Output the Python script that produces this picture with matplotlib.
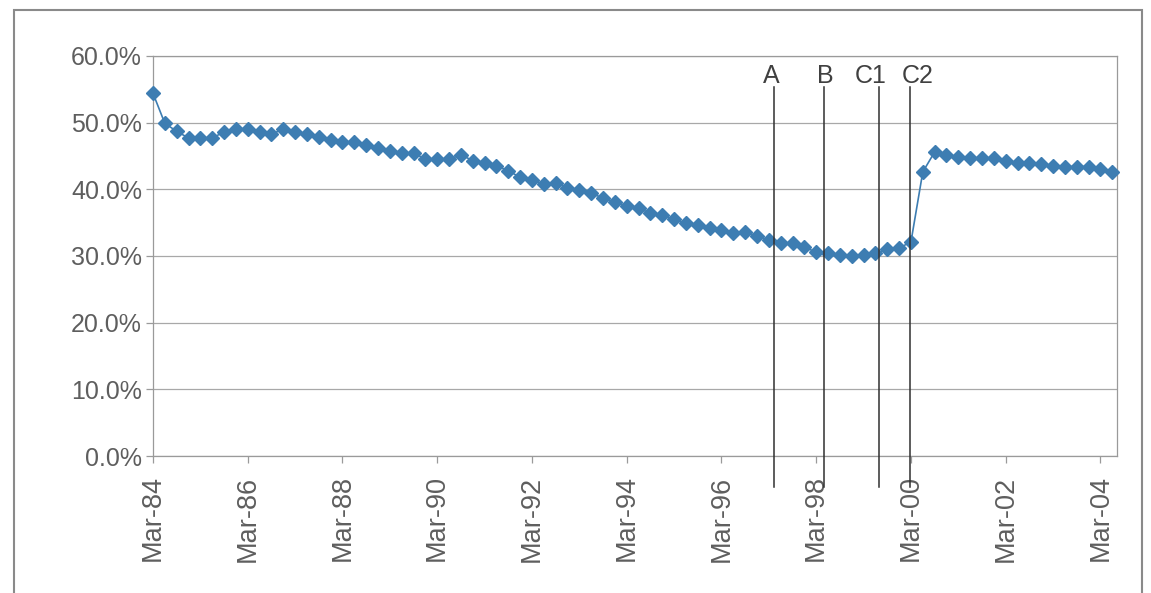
import numpy as np
import matplotlib.pyplot as plt
from matplotlib.patches import Rectangle

# quarterly share, Mar-84 .. Jun-04 (percent)
share = [54.4, 49.9, 48.7, 47.7, 47.7, 47.7, 48.6, 49.0, 49.0, 48.6,
         48.3, 49.0, 48.6, 48.3, 47.9, 47.4, 47.1, 47.1, 46.6, 46.2,
         45.8, 45.4, 45.5, 44.5, 44.5, 44.5, 45.2, 44.3, 44.0, 43.5,
         42.8, 41.8, 41.4, 40.8, 41.0, 40.2, 39.9, 39.4, 38.7, 38.1,
         37.5, 37.2, 36.4, 36.1, 35.5, 34.9, 34.6, 34.2, 33.9, 33.4,
         33.6, 33.0, 32.4, 31.9, 31.9, 31.3, 30.6, 30.4, 30.1, 30.0,
         30.1, 30.4, 31.0, 31.2, 32.1, 42.6, 45.6, 45.1, 44.9, 44.7,
         44.7, 44.7, 44.3, 43.9, 43.9, 43.8, 43.5, 43.4, 43.4, 43.4,
         43.1, 42.6]

tick_labels = ['Mar-84', 'Mar-86', 'Mar-88', 'Mar-90', 'Mar-92', 'Mar-94',
               'Mar-96', 'Mar-98', 'Mar-00', 'Mar-02', 'Mar-04']

# event markers, position in quarters after Mar-84
events = ['A', 'B', 'C1', 'C2']
event_pos = [52.4, 56.7, 61.3, 63.9]
event_text_pos = [52.2, 56.8, 60.6, 64.6]

plt.rcParams['font.family'] = ['Liberation Sans', 'DejaVu Sans']
grey_txt = '#5e5e5e'
blue = '#3d7db2'

fig = plt.figure(figsize=(11.51, 5.93), dpi=100)
ax = fig.add_axes([153 / 1151, 1 - 456 / 593, (1117 - 153) / 1151, (456 - 56) / 593])

x = np.arange(len(share))
ax.plot(x, share, color=blue, linewidth=1.2, marker='D', markersize=7.4,
        markerfacecolor=blue, markeredgecolor=blue, clip_on=False, zorder=3)

ax.set_xlim(0, 81.4)
ax.set_ylim(0, 60)
ax.set_yticks(np.arange(0, 61, 10))
ax.set_yticklabels([f'{v:.1f}%' for v in np.arange(0, 61, 10)])
ax.set_xticks(np.arange(0, 8 * len(tick_labels), 8))
ax.set_xticklabels(tick_labels, rotation=90)

ax.grid(axis='y', color='#a8a8a8', linewidth=0.9)
ax.set_axisbelow(True)
for s in ['left', 'bottom', 'right', 'top']:
    ax.spines[s].set_color('#9a9a9a')
    ax.spines[s].set_linewidth(0.9)
ax.tick_params(axis='y', length=5, width=0.9, color='#9a9a9a', pad=3,
               labelsize=18, labelcolor=grey_txt)
ax.tick_params(axis='x', length=5, width=0.9, color='#9a9a9a', pad=9,
               labelsize=19.5, labelcolor=grey_txt)

for name, p, tp in zip(events, event_pos, event_text_pos):
    ax.plot([p, p], [55.35, -4.65], color='#303030', linewidth=1.1,
            clip_on=False, zorder=4)
    ax.text(tp, 56.0, name, ha='center', va='baseline', fontsize=18,
            color='#404040')

# outer chart frame
fig.patches.append(Rectangle((14 / 1151, -0.05), (1142 - 14) / 1151, 1.05 - 10 / 593,
                             transform=fig.transFigure, fill=False,
                             edgecolor='#8a8a8a', linewidth=1.5))

fig.savefig('out.png', dpi=100)
